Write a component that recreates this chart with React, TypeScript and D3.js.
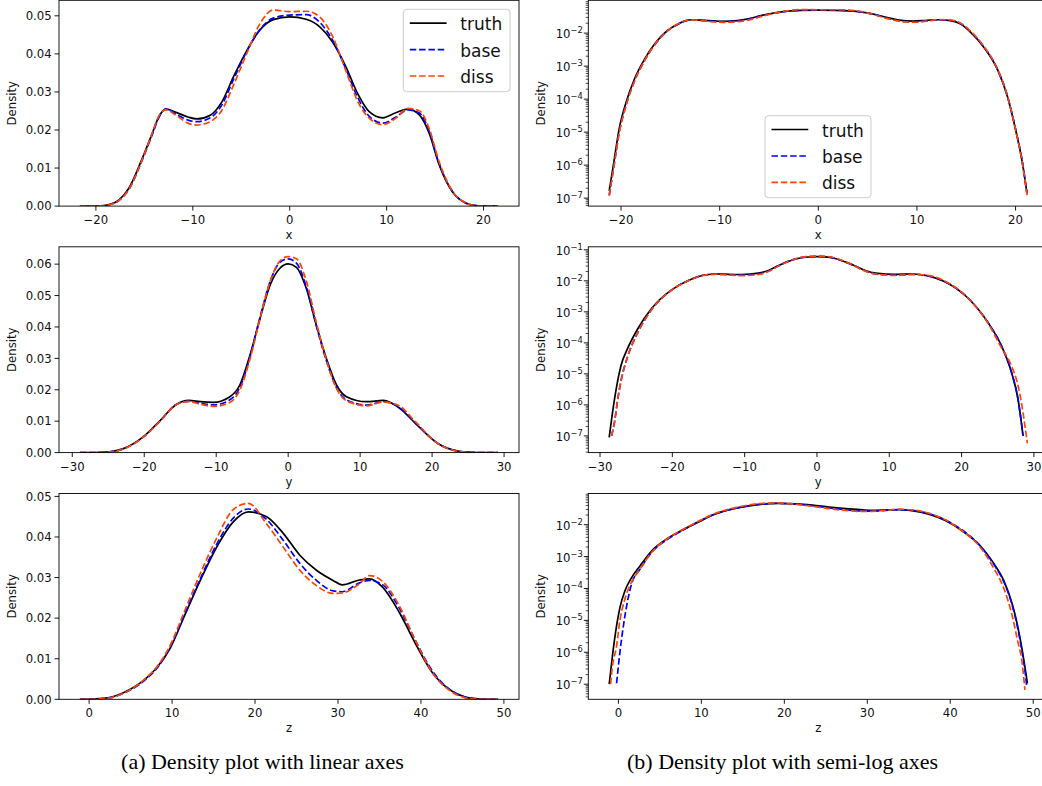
import React from "react";
import * as d3 from "d3";

// ---------------- data ----------------
// variable x
const gridX = [-21.2, -20.7, -20.2, -19.5, -18.65, -17.6, -16.6, -15.3, -14.2, -13.5, -12.8, -11.6, -10.5, -9.6, -8.2, -7.0, -5.8, -4.4, -3.1, -1.7, 0, 1.7, 3.1, 4.4, 5.8, 7.0, 8.2, 9.6, 11.0, 12.2, 13.4, 14.4, 15.4, 16.8, 18.15, 19.17, 20.0, 20.7, 21.15, 21.2];
const truthX = [1.66e-7, 1.4e-6, 1.2e-5, 7.8e-5, 4.0e-4, 1.66e-3, 4.7e-3, 0.012, 0.019, 0.0235, 0.0255, 0.0245, 0.0234, 0.0229, 0.0239, 0.0274, 0.034, 0.041, 0.0462, 0.049, 0.0497, 0.0491, 0.0471, 0.0432, 0.0366, 0.0296, 0.0248, 0.0232, 0.0246, 0.0255, 0.0239, 0.0191, 0.011, 0.0037, 8.1e-4, 1.23e-4, 1.2e-5, 1.15e-6, 1.45e-7, null];
const baseX = [1.2e-7, 1.05e-6, 9.5e-6, 6.5e-5, 3.5e-4, 1.5e-3, 4.4e-3, 0.0116, 0.0187, 0.0233, 0.0255, 0.024, 0.0226, 0.0222, 0.0232, 0.0266, 0.0333, 0.0408, 0.0463, 0.0494, 0.0502, 0.0503, 0.0483, 0.0437, 0.036, 0.0286, 0.0236, 0.0218, 0.0235, 0.0253, 0.0244, 0.0196, 0.0113, 0.0038, 8.3e-4, 1.27e-4, 1.25e-5, 1.2e-6, 1.4e-7, null];
const dissX = [1.2e-7, 1.0e-6, 8.8e-6, 6.2e-5, 3.4e-4, 1.5e-3, 4.4e-3, 0.0117, 0.0191, 0.0237, 0.0253, 0.0236, 0.0218, 0.0213, 0.0222, 0.0252, 0.0318, 0.0403, 0.0478, 0.0515, 0.0511, 0.0512, 0.0497, 0.0447, 0.0355, 0.0276, 0.0231, 0.0214, 0.0232, 0.0257, 0.025, 0.0203, 0.0118, 0.0039, 8.4e-4, 1.25e-4, 1.2e-5, 1.1e-6, 1.38e-7, 1.1e-7];
const linExtX = [-21.65, 21.5];

// variable y
const gridY = [-28.73, -28.4, -28.0, -27.5, -27.1, -26.2, -24.8, -22.9, -20.15, -17.8, -15.5, -13.8, -12.2, -10.4, -8.1, -6.7, -5.3, -3.9, -2.5, -1.15, 0, 1.15, 2.5, 3.9, 5.3, 6.7, 8.1, 10.9, 13.2, 15.5, 17.6, 20.8, 23.6, 25.5, 26.9, 27.8, 28.5, 28.8, 29.1];
const truthY = [8.9e-8, 3.5e-7, 1.5e-6, 7.0e-6, 1.86e-5, 6.5e-5, 2.8e-4, 1.26e-3, 5.0e-3, 0.0102, 0.0154, 0.0166, 0.0162, 0.016, 0.0178, 0.0216, 0.0311, 0.0428, 0.0534, 0.0587, 0.0601, 0.059, 0.0524, 0.0407, 0.03, 0.0216, 0.0178, 0.0162, 0.0166, 0.0141, 0.0095, 0.0029, 4.7e-4, 8.1e-5, 1.12e-5, 1.55e-6, 1.0e-7, null, null];
const baseY = [null, 1.0e-7, 2.8e-7, 1.8e-6, 5.9e-6, 3.5e-5, 2.1e-4, 1.15e-3, 4.9e-3, 0.0101, 0.0154, 0.0163, 0.0157, 0.0152, 0.0168, 0.0208, 0.0305, 0.0432, 0.0545, 0.0606, 0.0617, 0.0603, 0.053, 0.0405, 0.0293, 0.0208, 0.0168, 0.0151, 0.0162, 0.0143, 0.0097, 0.0029, 4.7e-4, 8.1e-5, 1.12e-5, 1.55e-6, 1.0e-7, null, null];
const dissY = [null, 1.0e-7, 2.8e-7, 1.8e-6, 5.9e-6, 3.5e-5, 2.1e-4, 1.15e-3, 4.9e-3, 0.01, 0.0153, 0.0163, 0.0154, 0.0147, 0.016, 0.02, 0.0298, 0.0428, 0.0545, 0.061, 0.0624, 0.0617, 0.0548, 0.0415, 0.0295, 0.0205, 0.0165, 0.0149, 0.0161, 0.0148, 0.01, 0.0029, 4.5e-4, 7.0e-5, 1.8e-5, 4.2e-6, 5.6e-7, 1.8e-7, 5.8e-8];
const linExtY = [-28.94, 29.17];

// variable z
const gridZ = [-1.11, -0.95, -0.75, -0.22, 0.18, 0.79, 1.59, 2.6, 4.0, 6.0, 7.1, 8.2, 9.8, 11.4, 13.4, 15.4, 17.4, 19.2, 21.4, 23.4, 25.4, 27.4, 29.4, 30.5, 32.6, 33.8, 35.4, 37.4, 39.4, 41.3, 43.66, 45.27, 46.47, 47.48, 48.09, 48.7, 49.0, 49.2, 49.3];
const truthZ = [1.0e-7, 2.3e-7, 6.6e-7, 6.8e-6, 2.5e-5, 8.5e-5, 2.2e-4, 5.1e-4, 1.5e-3, 3.8e-3, 5.6e-3, 7.9e-3, 0.0127, 0.0201, 0.0293, 0.0376, 0.0438, 0.0462, 0.045, 0.0409, 0.0355, 0.0318, 0.0293, 0.0282, 0.0294, 0.0297, 0.0276, 0.0214, 0.0135, 0.0068, 0.0021, 6.0e-4, 1.74e-4, 3.2e-5, 7.4e-6, 1.07e-6, 3.5e-7, 1.6e-7, 1.07e-7];
const baseZ = [null, null, null, 1.07e-7, 1.0e-6, 1.4e-5, 1.4e-4, 4.0e-4, 1.35e-3, 3.6e-3, 5.4e-3, 7.7e-3, 0.013, 0.0205, 0.0297, 0.0383, 0.0447, 0.0469, 0.0443, 0.0392, 0.0335, 0.0293, 0.0267, 0.0265, 0.0287, 0.0293, 0.0282, 0.0224, 0.0142, 0.0072, 0.0021, 5.6e-4, 1.6e-4, 2.9e-5, 6.5e-6, 9.0e-7, 2.8e-7, 9.5e-8, null];
const dissZ = [null, 1.0e-7, 3.2e-7, 1.6e-6, 1.0e-5, 4.7e-5, 1.6e-4, 4.0e-4, 1.35e-3, 3.8e-3, 5.7e-3, 8.1e-3, 0.0134, 0.0212, 0.031, 0.0398, 0.0468, 0.0483, 0.0432, 0.0375, 0.0318, 0.028, 0.0261, 0.0262, 0.0285, 0.0305, 0.029, 0.023, 0.0142, 0.0068, 0.0019, 4.2e-4, 1.0e-4, 1.35e-5, 2.5e-6, 4.0e-7, 6.6e-8, null, null];
const linExtZ = [-1.11, 49.3];

// ticks and labels
const xTicksX = [-20, -10, 0, 10, 20];
const xTicksY = [-30, -20, -10, 0, 10, 20, 30];
const xTicksZ = [0, 10, 20, 30, 40, 50];
const yTicksLinX = [0, 0.01, 0.02, 0.03, 0.04, 0.05];
const yTicksLinY = [0, 0.01, 0.02, 0.03, 0.04, 0.05, 0.06];
const yTicksLinZ = [0, 0.01, 0.02, 0.03, 0.04, 0.05];
const axisNames = ["x", "y", "z"];
const seriesNames = ["truth", "base", "diss"];
const captions = ["(a) Density plot with linear axes", "(b) Density plot with semi-log axes"];

// ---------------- layout / style ----------------
const WIDTH = 1042;
const HEIGHT = 786;
const COL_X = [59, 588.3];
const PANEL_W = 460;
const ROW_Y = [0.3, 246.8, 493.5];
const PANEL_H = 205.8;
const FONT = '"DejaVu Sans", Verdana, sans-serif';
const SERIF = '"Liberation Serif", "Times New Roman", Times, serif';
const TICK_FS = 11.7;
const COLORS = ["#000000", "#0000ff", "#ff4500"];
const DASHES = [undefined, "6.5 2.8", "6.5 2.8"];
const LINE_W = 1.7;
const LEGENDS = [
  { col: 0, x: 403.3, y: 9.3, w: 106.7, h: 82.4 },
  { col: 1, x: 765, y: 115.7, w: 106, h: 82 },
];

const VARS = [
  { grid: gridX, series: [truthX, baseX, dissX], linExt: linExtX, xTicks: xTicksX, yTicks: yTicksLinX, name: axisNames[0] },
  { grid: gridY, series: [truthY, baseY, dissY], linExt: linExtY, xTicks: xTicksY, yTicks: yTicksLinY, name: axisNames[1] },
  { grid: gridZ, series: [truthZ, baseZ, dissZ], linExt: linExtZ, xTicks: xTicksZ, yTicks: yTicksLinZ, name: axisNames[2] },
];

type Pt = [number, number];

function toPoints(grid: number[], vals: (number | null)[]): Pt[] {
  const out: Pt[] = [];
  grid.forEach((g, i) => {
    const v = vals[i];
    if (v != null && v > 0) out.push([g, v]);
  });
  return out;
}

function padded(pts: Pt[], ext: number[]): Pt[] {
  const out = pts.slice();
  if (ext[0] < out[0][0] - 0.01) out.unshift([ext[0], 0]);
  if (ext[1] > out[out.length - 1][0] + 0.01) out.push([ext[1], 0]);
  return out;
}

function withMargin(a: number, b: number): [number, number] {
  const s = b - a;
  return [a - 0.05 * s, b + 0.05 * s];
}

const fmtLin = d3.format(".2f");
const fmtX = (v: number) => (v < 0 ? "\u2212" + Math.abs(v) : String(v));

function Panel({ vi, col }: { vi: number; col: number }) {
  const v = VARS[vi];
  const x0 = COL_X[col];
  const y0 = ROW_Y[vi];
  const isLog = col === 1;
  const raw = v.series.map((s) => toPoints(v.grid, s));
  const pts = isLog ? raw : raw.map((p) => padded(p, v.linExt));
  const flat = pts.flat();
  const [xa, xb] = d3.extent(flat, (p) => p[0]) as [number, number];
  const x = d3.scaleLinear().domain(withMargin(xa, xb)).range([x0, x0 + PANEL_W]);

  let y: any;
  let logDom: [number, number] = [0, 0];
  if (!isLog) {
    const ymax = d3.max(flat, (p) => p[1]) as number;
    y = d3.scaleLinear().domain([0, ymax * 1.05]).range([y0 + PANEL_H, y0]);
  } else {
    const le = d3.extent(flat, (p) => Math.log10(p[1])) as [number, number];
    logDom = withMargin(le[0], le[1]);
    y = d3.scaleLog().domain([10 ** logDom[0], 10 ** logDom[1]]).range([y0 + PANEL_H, y0]);
  }

  const line = d3
    .line<Pt>()
    .x((p) => x(p[0]))
    .y((p) => y(p[1]))
    .curve(d3.curveMonotoneX);

  const clipId = `clip-${vi}-${col}`;
  const xDom = x.domain();
  const xt = v.xTicks.filter((t) => t >= xDom[0] && t <= xDom[1]);
  const bottom = y0 + PANEL_H;

  const majors: number[] = [];
  const minors: number[] = [];
  if (isLog) {
    for (let k = Math.floor(logDom[0]); k <= Math.ceil(logDom[1]); k++) {
      if (k >= logDom[0] && k <= logDom[1]) majors.push(k);
      for (let m = 2; m <= 9; m++) {
        const l = k + Math.log10(m);
        if (l >= logDom[0] && l <= logDom[1]) minors.push(m * 10 ** k);
      }
    }
  }

  return (
    <g>
      <defs>
        <clipPath id={clipId}>
          <rect x={x0} y={y0} width={PANEL_W} height={PANEL_H} />
        </clipPath>
      </defs>
      <g clipPath={`url(#${clipId})`}>
        {pts.map((p, i) => (
          <path
            key={i}
            d={line(p) || ""}
            fill="none"
            stroke={COLORS[i]}
            strokeWidth={LINE_W}
            strokeDasharray={DASHES[i]}
          />
        ))}
      </g>
      <rect x={x0} y={y0} width={PANEL_W} height={PANEL_H} fill="none" stroke="#000" strokeWidth={0.9} />
      {xt.map((t) => (
        <g key={"xt" + t}>
          <line x1={x(t)} x2={x(t)} y1={bottom} y2={bottom + 4.5} stroke="#000" strokeWidth={0.9} />
          <text x={x(t)} y={bottom + 18} textAnchor="middle" fontSize={TICK_FS} fontFamily={FONT} fill="#111">
            {fmtX(t)}
          </text>
        </g>
      ))}
      <text x={x0 + PANEL_W / 2} y={bottom + 33} textAnchor="middle" fontSize={TICK_FS} fontFamily={FONT} fill="#111">
        {v.name}
      </text>
      {!isLog &&
        v.yTicks
          .filter((t) => t <= y.domain()[1])
          .map((t) => (
            <g key={"yt" + t}>
              <line x1={x0 - 4.5} x2={x0} y1={y(t)} y2={y(t)} stroke="#000" strokeWidth={0.9} />
              <text x={x0 - 7.3} y={y(t) + 4.2} textAnchor="end" fontSize={TICK_FS} fontFamily={FONT} fill="#111">
                {fmtLin(t)}
              </text>
            </g>
          ))}
      {isLog &&
        minors.map((m, i) => (
          <line key={"mn" + i} x1={x0 - 2.6} x2={x0} y1={y(m)} y2={y(m)} stroke="#000" strokeWidth={0.7} />
        ))}
      {isLog &&
        majors.map((k) => (
          <g key={"mj" + k}>
            <line x1={x0 - 4.5} x2={x0} y1={y(10 ** k)} y2={y(10 ** k)} stroke="#000" strokeWidth={0.9} />
            <text x={x0 - 5.5} y={y(10 ** k) + 5} textAnchor="end" fontSize={TICK_FS} fontFamily={FONT} fill="#111">
              <tspan>10</tspan>
              <tspan dy={-5} fontSize={8.3}>{"\u2212" + Math.abs(k)}</tspan>
            </text>
          </g>
        ))}
      <text
        transform={`translate(${x0 - (isLog ? 43.8 : 42.8)},${y0 + PANEL_H / 2}) rotate(-90)`}
        textAnchor="middle"
        fontSize={TICK_FS}
        fontFamily={FONT}
        fill="#111"
      >
        Density
      </text>
    </g>
  );
}

function Legend({ x, y, w, h }: { x: number; y: number; w: number; h: number }) {
  const rows = [13.8, 40.3, 66.7];
  return (
    <g>
      <rect x={x} y={y} width={w} height={h} rx={3.5} fill="#fff" fillOpacity={0.8} stroke="#cccccc" strokeWidth={1} />
      {seriesNames.map((n, i) => (
        <g key={n}>
          <line
            x1={x + 6.5}
            x2={x + 43.3}
            y1={y + rows[i]}
            y2={y + rows[i]}
            stroke={COLORS[i]}
            strokeWidth={LINE_W}
            strokeDasharray={DASHES[i]}
          />
          <text x={x + 57} y={y + rows[i] + 7} fontSize={17} fontFamily={FONT} fill="#111">
            {n}
          </text>
        </g>
      ))}
    </g>
  );
}

export default function App() {
  return (
    <div style={{ position: "absolute", left: 0, top: 0, width: WIDTH, height: HEIGHT, overflow: "hidden", background: "#fff" }}>
      <svg width={WIDTH} height={HEIGHT} viewBox={`0 0 ${WIDTH} ${HEIGHT}`} style={{ display: "block" }}>
        <rect x={0} y={0} width={WIDTH} height={HEIGHT} fill="#fff" />
        {VARS.map((_, vi) => (
          <g key={vi}>
            <Panel vi={vi} col={0} />
            <Panel vi={vi} col={1} />
          </g>
        ))}
        {LEGENDS.map((l, i) => (
          <Legend key={i} x={l.x} y={l.y} w={l.w} h={l.h} />
        ))}
        <text x={262.5} y={769} textAnchor="middle" fontSize={22} fontFamily={SERIF} fill="#000">
          {captions[0]}
        </text>
        <text x={782.5} y={769} textAnchor="middle" fontSize={22} fontFamily={SERIF} fill="#000">
          {captions[1]}
        </text>
      </svg>
    </div>
  );
}
